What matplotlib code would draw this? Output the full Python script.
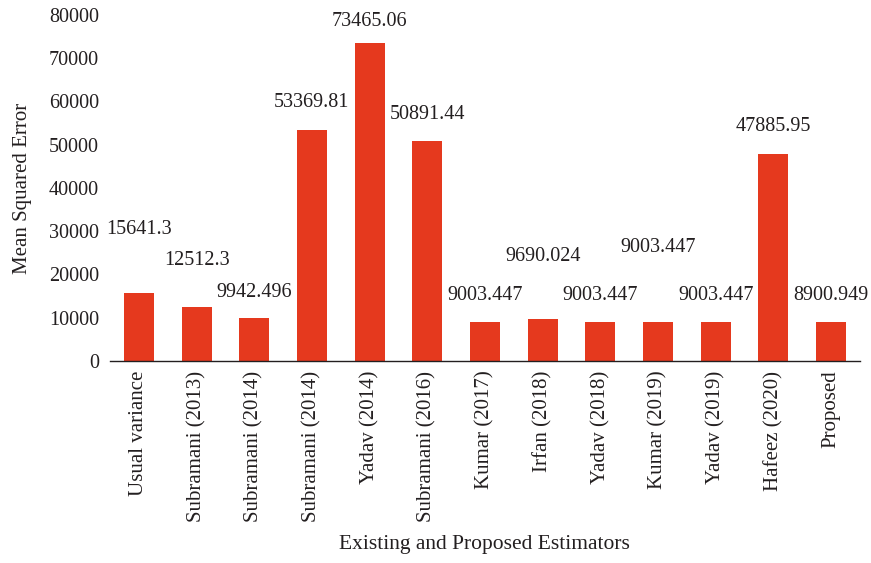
import matplotlib.pyplot as plt

# dados do grafico
estimadores = ['Usual variance', 'Subramani (2013)', 'Subramani (2014)',
               'Subramani (2014)', 'Yadav (2014)', 'Subramani (2016)',
               'Kumar (2017)', 'Irfan (2018)', 'Yadav (2018)', 'Kumar (2019)',
               'Yadav (2019)', 'Hafeez (2020)', 'Proposed']
mse = [15641.3, 12512.3, 9942.496, 53369.81, 73465.06, 50891.44,
       9003.447, 9690.024, 9003.447, 9003.447, 9003.447, 47885.95, 8900.949]
rotulos = ['15641.3', '12512.3', '9942.496', '53369.81', '73465.06', '50891.44',
           '9003.447', '9690.024', '9003.447', '9003.447', '9003.447',
           '47885.95', '8900.949']
# altura (em unidades do eixo y) onde cada rotulo aparece
altura_rotulo = [30300, 23350, 15950, 59650, 78600, 56900,
                 15030, 24050, 15030, 26130, 15030, 54100, 15030]

plt.rcParams['font.family'] = ['Liberation Serif', 'DejaVu Serif']
cor_texto = '#231f20'

fig = plt.figure(figsize=(8.71, 5.63), dpi=100)
ax = fig.add_axes([0.1263, 0.3588, 0.8611, 0.6146])

x = range(len(estimadores))
ax.bar(x, mse, width=0.52, color='#e5391e')

for i, (txt, h) in enumerate(zip(rotulos, altura_rotulo)):
    ax.text(i, h, txt, ha='center', va='center', fontsize=14.5, color=cor_texto)

ax.set_xlim(-0.5, len(estimadores) - 0.5)
ax.set_ylim(0, 80000)
ax.set_yticks(range(0, 80001, 10000))
ax.set_xticks(list(x))
ax.set_xticklabels(estimadores, rotation=90, fontsize=15, color=cor_texto)
ax.tick_params(axis='y', length=0, pad=8, labelsize=14.5, labelcolor=cor_texto)
ax.tick_params(axis='x', length=0, pad=7)

for lado in ['top', 'right', 'left']:
    ax.spines[lado].set_visible(False)
ax.spines['bottom'].set_color('#231f20')
ax.spines['bottom'].set_linewidth(1.0)

ax.set_ylabel('Mean Squared Error', fontsize=15, color=cor_texto, labelpad=12)
fig.text(0.5 * (0.1263 + 0.987), 1 - 545 / 563, 'Existing and Proposed Estimators',
         ha='center', va='center', fontsize=15.5, color=cor_texto)

fig.savefig('out.png', dpi=100)
